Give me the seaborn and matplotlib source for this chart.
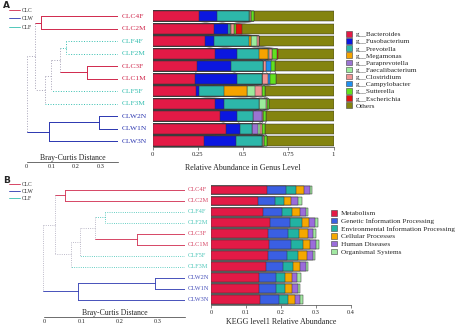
import numpy as np
import matplotlib
matplotlib.use("Agg")
import matplotlib.pyplot as plt
from matplotlib.patches import Patch
from matplotlib.lines import Line2D
import seaborn as sns

# sample order (same as dendrogram leaves, top to bottom)
samples = ["CLC4F", "CLC2M", "CLF4F", "CLF2M", "CLC3F", "CLC1M",
           "CLF5F", "CLF3M", "CLW2N", "CLW1N", "CLW3N"]
groups = ["CLC", "CLC", "CLF", "CLF", "CLC", "CLC", "CLF", "CLF", "CLW", "CLW", "CLW"]

# genus level relative abundance
genus_names = ["g__Bacteroides", "g__Fusobacterium", "g__Prevotella", "g__Megamonas",
               "g__Paraprevotella", "g__Faecalibacterium", "g__Clostridium",
               "g__Campylobacter", "g__Sutterella", "g__Escherichia", "Others"]
bacteroides = [0.254, 0.337, 0.288, 0.346, 0.245, 0.233, 0.240, 0.346, 0.370, 0.407, 0.286]
fusobacterium = [0.101, 0.082, 0.049, 0.119, 0.189, 0.236, 0.014, 0.050, 0.095, 0.077, 0.176]
prevotella = [0.180, 0.010, 0.198, 0.125, 0.178, 0.137, 0.138, 0.194, 0.092, 0.064, 0.141]
megamonas = [0.000, 0.000, 0.008, 0.050, 0.000, 0.000, 0.128, 0.000, 0.000, 0.000, 0.000]
paraprevotella = [0.000, 0.000, 0.000, 0.000, 0.000, 0.000, 0.000, 0.000, 0.046, 0.036, 0.000]
faecalibacterium = [0.005, 0.005, 0.035, 0.005, 0.000, 0.000, 0.046, 0.035, 0.000, 0.010, 0.005]
clostridium = [0.005, 0.015, 0.010, 0.017, 0.014, 0.029, 0.040, 0.008, 0.008, 0.008, 0.008]
campylobacter = [0.000, 0.000, 0.000, 0.000, 0.028, 0.013, 0.000, 0.000, 0.000, 0.000, 0.000]
sutterella = [0.013, 0.010, 0.000, 0.025, 0.022, 0.033, 0.014, 0.008, 0.018, 0.020, 0.014]
escherichia = [0.000, 0.035, 0.000, 0.005, 0.000, 0.000, 0.000, 0.000, 0.000, 0.000, 0.000]
others = [0.442, 0.506, 0.412, 0.308, 0.324, 0.319, 0.380, 0.359, 0.371, 0.378, 0.370]
genus_colors = ["#e31a46", "#0b17e0", "#2db7aa", "#f5a300", "#9a74d2", "#9ceb9c",
                "#f09494", "#1f8ff0", "#62e11f", "#e3100f", "#848410"]

# KEGG level1
kegg_names = ["Metabolism", "Genetic Information Processing",
              "Environmental Information Processing", "Cellular Processes",
              "Human Diseases", "Organismal Systems"]
metabolism = [0.159, 0.133, 0.149, 0.169, 0.162, 0.166, 0.162, 0.156, 0.137, 0.137, 0.140]
genetic = [0.055, 0.050, 0.055, 0.057, 0.059, 0.063, 0.054, 0.051, 0.048, 0.049, 0.054]
environmental = [0.029, 0.026, 0.028, 0.033, 0.031, 0.035, 0.033, 0.028, 0.026, 0.024, 0.027]
cellular = [0.023, 0.020, 0.022, 0.022, 0.024, 0.019, 0.024, 0.019, 0.020, 0.022, 0.019]
human = [0.017, 0.019, 0.017, 0.016, 0.016, 0.017, 0.018, 0.017, 0.016, 0.016, 0.014]
organismal = [0.006, 0.011, 0.007, 0.008, 0.008, 0.009, 0.006, 0.007, 0.009, 0.006, 0.008]
kegg_colors = ["#e31a46", "#3a5fe3", "#22b3a2", "#f5a800", "#9b6cdb", "#a2e8a2"]

# Bray-Curtis tree (leaf ids 0-10, new nodes 11..)
merge_left = [0, 2, 4, 12, 14, 15, 11, 8, 18, 17]
merge_right = [1, 3, 5, 13, 6, 7, 16, 9, 10, 19]
merge_height = [0.315, 0.210, 0.127, 0.237, 0.274, 0.299, 0.340, 0.078, 0.280, 0.372]

group_colors = {"CLC": "#d0284c", "CLW": "#2a35b0", "CLF": "#35bfb0"}
group_ls = {"CLC": "-", "CLW": "-", "CLF": ":"}
mixed_color = "#a8a4b8"

W, H = 457, 328
sns.set_style("white")
plt.rcParams['font.family'] = ['Liberation Serif', 'DejaVu Serif']

fig = plt.figure(figsize=(W / 100, H / 100), dpi=100)


def px_axes(x0, y0, x1, y1):
    return fig.add_axes([x0 / W, 1 - y1 / H, (x1 - x0) / W, (y1 - y0) / H])


def style_of(members):
    gs = set(groups[m] for m in members)
    if len(gs) == 1:
        g = gs.pop()
        return group_colors[g], group_ls[g]
    return mixed_color, ":"


def draw_tree(ax, lw, label_off, fs, label_alpha):
    pos = {i: (i, 0.0) for i in range(len(samples))}
    members = {i: [i] for i in range(len(samples))}
    for k, (l, r, h) in enumerate(zip(merge_left, merge_right, merge_height)):
        node = len(samples) + k
        for child in (l, r):
            y, hc = pos[child]
            c, ls = style_of(members[child])
            ax.plot([hc, h], [y, y], color=c, ls=ls, lw=lw)
        mem = members[l] + members[r]
        c, ls = style_of(mem)
        ax.plot([h, h], [pos[l][0], pos[r][0]], color=c, ls=ls, lw=lw)
        pos[node] = ((pos[l][0] + pos[r][0]) / 2, h)
        members[node] = mem
    ax.set_xlim(max(merge_height), 0)
    ax.set_ylim(len(samples) - 0.5, -0.5)
    ax.axis("off")
    for i, s in enumerate(samples):
        ax.text(-label_off, i, s, ha="left", va="center", fontsize=fs,
                color=group_colors[groups[i]], alpha=label_alpha, clip_on=False)


def draw_ruler(x0, x1, y, lw):
    ax = fig.add_axes([x0 / W, 1 - y / H, (x1 - x0) / W, 0.0001])
    ax.set_xlim(0, max(merge_height))
    ax.set_yticks([])
    for sp in ["left", "right", "top"]:
        ax.spines[sp].set_visible(False)
    ax.spines["bottom"].set_linewidth(lw)
    ax.spines["bottom"].set_color("#333333")
    ax.set_xticks([0, 0.1, 0.2, 0.3])
    ax.set_xticklabels(["0", "0.1", "0.2", "0.3"])
    ax.set_xticks(np.arange(0, 0.37, 0.01), minor=True)
    ax.tick_params(axis="x", which="major", direction="in", length=2.5, width=0.4,
                   labelsize=4.5, pad=1.5, color="#333333")
    ax.tick_params(axis="x", which="minor", direction="in", length=1.3, width=0.3,
                   color="#333333")
    ax.xaxis.set_label_position("top")
    ax.set_xlabel("Bray-Curtis Distance", fontsize=5.6, labelpad=1.5)
    return ax


def stacked_bars(ax, series, colors, edge_lw):
    cum = np.cumsum(np.array(series), axis=0)
    for k in reversed(range(len(series))):
        sns.barplot(x=cum[k], y=samples, orient="h", color=colors[k], saturation=1,
                    width=0.8, errorbar=None, edgecolor="#333333", linewidth=edge_lw, ax=ax)
    ax.set_ylim(len(samples) - 0.5, -0.5)
    ax.set_yticks([])
    ax.set_ylabel("")
    for sp in ["left", "right", "top"]:
        ax.spines[sp].set_visible(False)
    ax.spines["bottom"].set_linewidth(0.5)
    ax.spines["bottom"].set_color("#444444")
    return cum


# ---------------- Panel A ----------------
fig.text(3 / W, 1 - 8 / H, "A", fontsize=6.5, fontweight="bold", family="DejaVu Sans")

ax_da = px_axes(26.7, 10.1, 118, 147.3)
draw_tree(ax_da, 0.7, 0.016, 5.4, 1.0)
ax_da.legend(handles=[Line2D([], [], color=group_colors[g], lw=0.6) for g in group_colors],
             labels=list(group_colors), loc="upper left", bbox_to_anchor=(9 / W, 1 - 8 / H),
             bbox_transform=fig.transFigure, frameon=False, fontsize=4, handlelength=2.0,
             labelspacing=0.6, handletextpad=0.3, borderpad=0, borderaxespad=0)
draw_ruler(26.7, 118, 162, 0.5)

ax_a = px_axes(152.7, 10.1, 333.5, 147.3)
genus_series = [bacteroides, fusobacterium, prevotella, megamonas, paraprevotella,
                faecalibacterium, clostridium, campylobacter, sutterella, escherichia, others]
cum_a = stacked_bars(ax_a, genus_series, genus_colors, 0.35)
# connecting lines between neighbouring bars
for k in range(len(genus_series) - 1):
    for i in range(len(samples) - 1):
        ax_a.plot([cum_a[k][i], cum_a[k][i + 1]], [i + 0.4, i + 0.6],
                  color="#888888", lw=0.45, zorder=0.5)
ax_a.set_xlim(0, 1.0)
ax_a.set_xticks([0, 0.25, 0.5, 0.75, 1])
ax_a.set_xticklabels(["0", "0.25", "0.5", "0.75", "1"])
ax_a.tick_params(axis="x", length=2, width=0.4, labelsize=4.8, pad=1.5, bottom=True)
ax_a.set_xlabel("Relative Abundance in Genus Level", fontsize=5.8, labelpad=5)
ax_a.legend(handles=[Patch(facecolor=c, edgecolor="#444444", lw=0.4) for c in genus_colors],
            labels=genus_names, loc="upper left", bbox_to_anchor=(346 / W, 1 - 31 / H),
            bbox_transform=fig.transFigure, frameon=False, fontsize=5.2, labelspacing=0.12,
            handlelength=0.8, handleheight=0.8, handletextpad=0.6, borderpad=0,
            borderaxespad=0)

# ---------------- Panel B ----------------
fig.text(3 / W, 1 - 183 / H, "B", fontsize=6.5, fontweight="bold", family="DejaVu Sans")

ax_db = px_axes(43, 184.5, 185, 305)
draw_tree(ax_db, 0.6, 0.006, 4.6, 0.85)
ax_db.legend(handles=[Line2D([], [], color=group_colors[g], lw=0.6) for g in group_colors],
             labels=list(group_colors), loc="upper left", bbox_to_anchor=(9 / W, 1 - 182 / H),
             bbox_transform=fig.transFigure, frameon=False, fontsize=4, handlelength=2.0,
             labelspacing=0.35, handletextpad=0.3, borderpad=0, borderaxespad=0)
draw_ruler(44, 185, 317, 0.5)

ax_b = px_axes(211, 184.5, 351, 305)
kegg_series = [metabolism, genetic, environmental, cellular, human, organismal]
stacked_bars(ax_b, kegg_series, kegg_colors, 0.35)
ax_b.set_xlim(0, 0.4)
ax_b.set_xticks([0, 0.1, 0.2, 0.3, 0.4])
ax_b.set_xticklabels(["0", "0.1", "0.2", "0.3", "0.4"])
ax_b.tick_params(axis="x", length=2, width=0.4, labelsize=4.5, pad=1.5, bottom=True)
ax_b.set_xlabel("KEGG level1 Relative Abundance", fontsize=5.8, labelpad=2)
ax_b.legend(handles=[Patch(facecolor=c, edgecolor="#444444", lw=0.4) for c in kegg_colors],
            labels=kegg_names, loc="upper left", bbox_to_anchor=(331 / W, 1 - 210 / H),
            bbox_transform=fig.transFigure, frameon=False, fontsize=5.2, labelspacing=0.2,
            handlelength=0.8, handleheight=0.8, handletextpad=0.6, borderpad=0,
            borderaxespad=0)

fig.savefig("out.png", dpi=100)
